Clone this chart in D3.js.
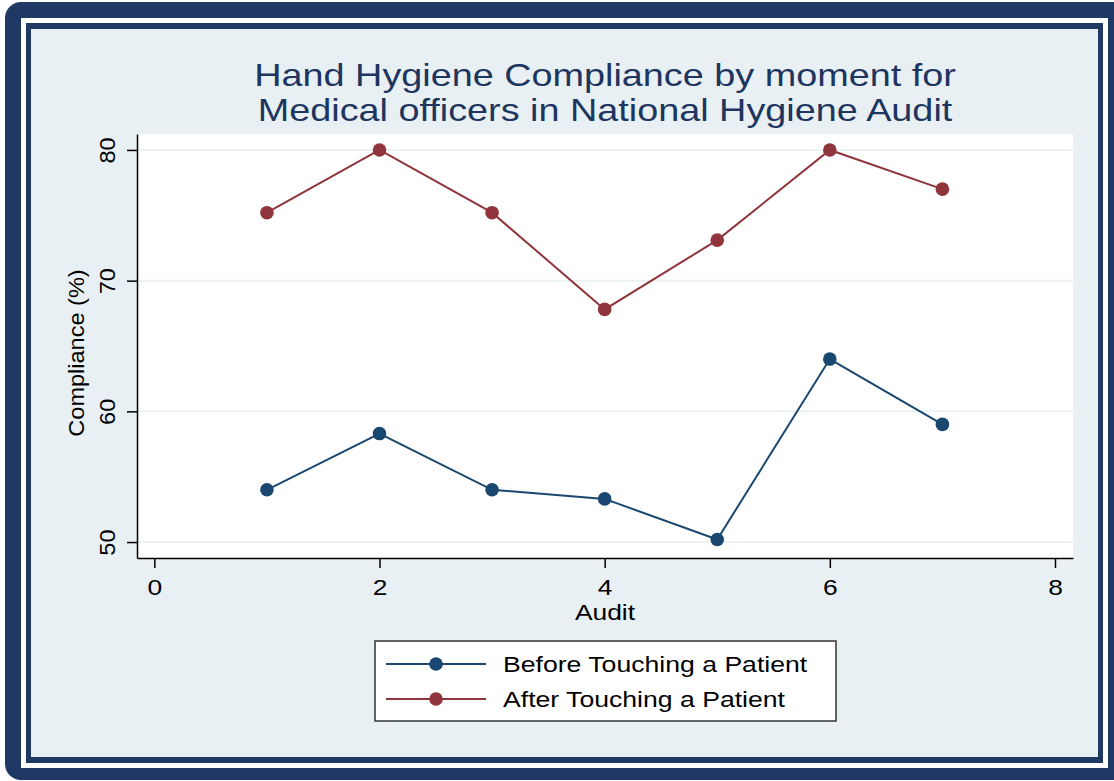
<!DOCTYPE html>
<html>
<head>
<meta charset="utf-8">
<script src="https://cdn.jsdelivr.net/npm/d3@7"></script>
<style>
  html, body { margin: 0; padding: 0; background: #ffffff; }
  svg { display: block; }
  text { font-family: "Liberation Sans", Arial, sans-serif; }
</style>
</head>
<body>
<svg id="chart" width="1114" height="781"></svg>
<script>
// ---- data ----
const audits = [1, 2, 3, 4, 5, 6, 7];
const beforeTouching = [54.0, 58.3, 54.0, 53.3, 50.2, 64.0, 59.0];
const afterTouching  = [75.2, 80.0, 75.2, 67.8, 73.1, 80.0, 77.0];
const seriesNames = ["Before Touching a Patient", "After Touching a Patient"];
const xTicks = [0, 2, 4, 6, 8];
const yTicks = [50, 60, 70, 80];
const titleLines = ["Hand Hygiene Compliance by moment for", "Medical officers in National Hygiene Audit"];
const xTitle = "Audit";
const yTitle = "Compliance (%)";

// ---- styles ----
const navy = "#1f3864";
const bg = "#e8f0f3";
const colors = ["#1a476f", "#90353b"];
const hs = 1.2;   // horizontal widening of horizontal text
const vs = 1.07;  // widening of vertical text

const svg = d3.select("#chart");

// frame
svg.append("rect").attr("x", 5).attr("y", 2).attr("width", 1140).attr("height", 778).attr("rx", 16).attr("fill", navy);
svg.append("rect").attr("x", 21).attr("y", 18).attr("width", 1087).attr("height", 750).attr("fill", "#ffffff");
svg.append("rect").attr("x", 26).attr("y", 23).attr("width", 1077).attr("height", 740).attr("fill", navy);
svg.append("rect").attr("x", 31).attr("y", 29).attr("width", 1067).attr("height", 728).attr("fill", bg);

// plot region
const plot = { left: 137, right: 1073, top: 134, bottom: 558 };
svg.append("rect").attr("x", plot.left).attr("y", plot.top)
  .attr("width", plot.right - plot.left).attr("height", plot.bottom - plot.top).attr("fill", "#ffffff");

const x = d3.scaleLinear().domain([-0.154, 8.16]).range([plot.left, plot.right]);
const y = d3.scaleLinear().domain([48.78, 81.22]).range([plot.bottom, plot.top]);

// grid
svg.append("g").selectAll("line").data(yTicks).join("line")
  .attr("x1", plot.left).attr("x2", plot.right)
  .attr("y1", d => y(d)).attr("y2", d => y(d))
  .attr("stroke", "#eaf2f3").attr("stroke-width", 2);

// axes
const yAxis = svg.append("g").attr("transform", `translate(${plot.left},0)`)
  .call(d3.axisLeft(y).tickValues(yTicks).tickSize(10).tickSizeOuter(0).tickFormat(d3.format("d")));
yAxis.selectAll("text")
  .attr("transform", `translate(-22,0) rotate(-90) scale(${vs},1)`).attr("x", 0).attr("y", 0).attr("dy", 0)
  .attr("text-anchor", "middle").attr("font-size", 22).attr("fill", "#000")
  .attr("font-family", "Liberation Sans, Arial, sans-serif");

const xAxis = svg.append("g").attr("transform", `translate(0,${plot.bottom})`)
  .call(d3.axisBottom(x).tickValues(xTicks).tickSize(10).tickSizeOuter(0).tickFormat(d3.format("d")));
xAxis.selectAll("text")
  .attr("transform", `translate(0,37) scale(${hs},1)`).attr("y", 0).attr("dy", 0)
  .attr("font-size", 22).attr("fill", "#000")
  .attr("font-family", "Liberation Sans, Arial, sans-serif");

[yAxis, xAxis].forEach(a => {
  a.select(".domain").attr("stroke", "#000").attr("stroke-width", 1.5);
  a.selectAll(".tick line").attr("stroke", "#000").attr("stroke-width", 1.5);
});

// series
const series = [beforeTouching, afterTouching];
const line = d3.line().x((d, i) => x(audits[i])).y(d => y(d));
series.forEach((vals, si) => {
  svg.append("path").datum(vals).attr("d", line)
    .attr("fill", "none").attr("stroke", colors[si]).attr("stroke-width", 2);
  svg.append("g").selectAll("circle").data(vals).join("circle")
    .attr("cx", (d, i) => x(audits[i])).attr("cy", d => y(d)).attr("r", 6.8)
    .attr("fill", colors[si]);
});

// titles
titleLines.forEach((t, i) => {
  svg.append("text").attr("transform", `translate(605,${86 + i * 35}) scale(${hs},1)`)
    .attr("text-anchor", "middle").attr("font-size", 31.5).attr("fill", "#1e3560").text(t);
});

svg.append("text").attr("transform", `translate(605,620) scale(${hs},1)`).attr("text-anchor", "middle")
  .attr("font-size", 22).attr("fill", "#000").text(xTitle);

svg.append("text").attr("transform", `translate(84,353) rotate(-90) scale(${vs},1)`).attr("text-anchor", "middle")
  .attr("font-size", 22).attr("fill", "#000").text(yTitle);

// legend
const lg = svg.append("g");
lg.append("rect").attr("x", 375).attr("y", 641).attr("width", 461).attr("height", 80)
  .attr("fill", "#ffffff").attr("stroke", "#333").attr("stroke-width", 1.5);
seriesNames.forEach((name, i) => {
  const cy = 664 + i * 35;
  lg.append("line").attr("x1", 386).attr("x2", 486).attr("y1", cy).attr("y2", cy)
    .attr("stroke", colors[i]).attr("stroke-width", 2);
  lg.append("circle").attr("cx", 436).attr("cy", cy).attr("r", 6.8).attr("fill", colors[i]);
  lg.append("text").attr("transform", `translate(503,${cy + 8}) scale(1.21,1)`)
    .attr("font-size", 22).attr("fill", "#000").text(name);
});
</script>
</body>
</html>
